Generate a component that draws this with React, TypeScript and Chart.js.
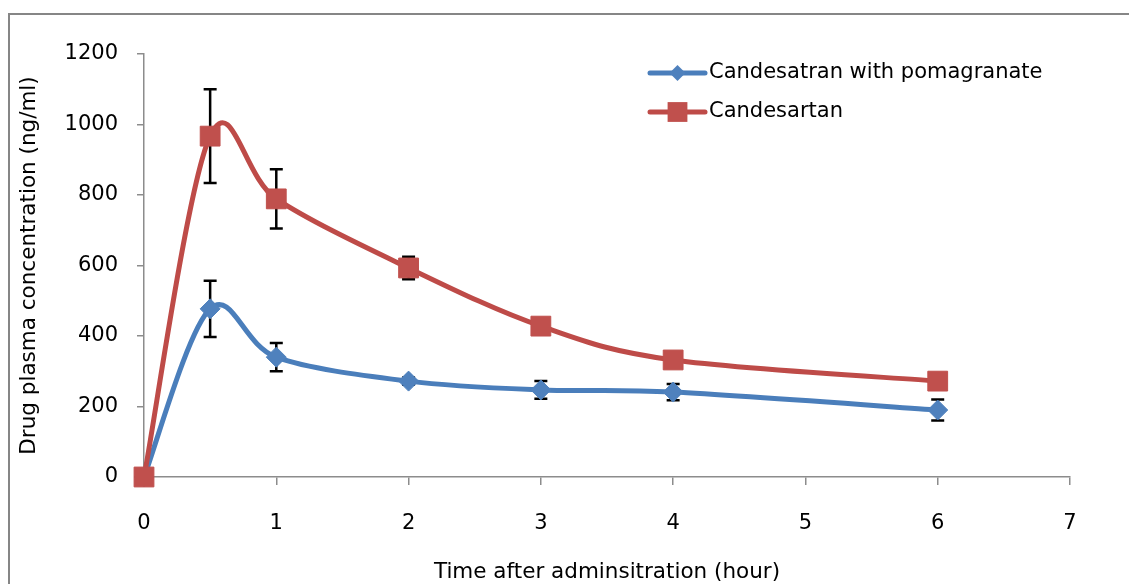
import { useEffect, useRef } from "react";
import { Chart, registerables } from "chart.js";

Chart.register(...registerables);

// ---- data ----
const timeHours = [0, 0.5, 1, 2, 3, 4, 6];
const withPomegranate = [0, 477, 340, 272, 247, 241, 190];
const withPomegranateSD = [0, 80, 40, 10, 25, 23, 30];
const candesartan = [0, 967, 789, 593, 428, 332, 272];
const candesartanSD = [0, 133, 84, 32, 15, 12, 10];
const seriesLabels = ["Candesatran with pomagranate", "Candesartan"];
const xAxisTitle = "Time after adminsitration (hour)";
const yAxisTitle = "Drug plasma concentration (ng/ml)";
const xMin = 0;
const xMax = 7;
const yMin = 0;
const yMax = 1200;
const yStep = 200;

const FONT = "'DejaVu Sans', sans-serif";
const BLUE = "#4A7EBB";
const BLUE_FILL = "#4F81BD";
const RED = "#BE4B48";
const RED_FILL = "#C0504D";
const AXIS = "#8C8C8C";

// Excel-like smoothing: uniform Catmull-Rom control points (1/6 of neighbour span)
const smoothPlugin = {
  id: "excelSmooth",
  beforeDatasetDraw(chart: any, args: any) {
    const meta = args.meta;
    const pts = meta.data;
    const n = pts.length;
    for (let i = 0; i < n; i++) {
      const p = pts[i];
      const prev = pts[Math.max(0, i - 1)];
      const next = pts[Math.min(n - 1, i + 1)];
      const tx = (next.x - prev.x) / 6;
      const ty = (next.y - prev.y) / 6;
      p.cp1x = p.x - tx;
      p.cp1y = p.y - ty;
      p.cp2x = p.x + tx;
      p.cp2y = p.y + ty;
    }
    if (meta.dataset) meta.dataset._pointsUpdated = true;
  },
};

const errorBarPlugin = {
  id: "errorBars",
  beforeDatasetsDraw(chart: any) {
    const { ctx } = chart;
    const xs = chart.scales.x;
    const ys = chart.scales.y;
    ctx.save();
    ctx.strokeStyle = "#000";
    ctx.lineWidth = 2.5;
    chart.data.datasets.forEach((ds: any) => {
      const errs: number[] = ds.errors || [];
      ds.data.forEach((p: any, i: number) => {
        const e = errs[i];
        if (!e) return;
        const x = xs.getPixelForValue(p.x);
        const yt = ys.getPixelForValue(p.y + e);
        const yb = ys.getPixelForValue(p.y - e);
        const cap = 6.5;
        ctx.beginPath();
        ctx.moveTo(x, yt);
        ctx.lineTo(x, yb);
        ctx.moveTo(x - cap, yt);
        ctx.lineTo(x + cap, yt);
        ctx.moveTo(x - cap, yb);
        ctx.lineTo(x + cap, yb);
        ctx.stroke();
      });
    });
    ctx.restore();
  },
};

const legendPlugin = {
  id: "insideLegend",
  afterDraw(chart: any) {
    const { ctx, chartArea } = chart;
    ctx.save();
    ctx.font = `21px ${FONT}`;
    ctx.textAlign = "left";
    ctx.textBaseline = "middle";
    chart.data.datasets.forEach((ds: any, i: number) => {
      const y = chartArea.top + 19 + i * 39;
      const x0 = chartArea.left + 506;
      const x1 = x0 + 55;
      ctx.strokeStyle = ds.borderColor;
      ctx.lineWidth = ds.borderWidth;
      ctx.lineCap = "round";
      ctx.beginPath();
      ctx.moveTo(x0, y);
      ctx.lineTo(x1, y);
      ctx.stroke();
      ctx.fillStyle = ds.pointBackgroundColor;
      const cx = (x0 + x1) / 2;
      if (ds.pointStyle === "rect") {
        const s = ds.pointRadius * Math.SQRT1_2;
        ctx.fillRect(cx - s, y - s, 2 * s, 2 * s);
      } else {
        const r = ds.pointRadius * 0.8;
        ctx.beginPath();
        ctx.moveTo(cx, y - r);
        ctx.lineTo(cx + r, y);
        ctx.lineTo(cx, y + r);
        ctx.lineTo(cx - r, y);
        ctx.closePath();
        ctx.fill();
      }
      ctx.fillStyle = "#000";
      ctx.fillText(ds.label, x1 + 4, y);
    });
    ctx.restore();
  },
};

export default function App() {
  const ref = useRef<HTMLCanvasElement | null>(null);

  useEffect(() => {
    if (!ref.current) return;
    const toPts = (vals: number[]) => vals.map((v, i) => ({ x: timeHours[i], y: v }));
    const chart = new Chart(ref.current, {
      type: "line",
      data: {
        datasets: [
          {
            label: seriesLabels[0],
            data: toPts(withPomegranate),
            errors: withPomegranateSD,
            borderColor: BLUE,
            borderWidth: 5,
            pointStyle: "rectRot",
            pointRadius: 10,
            pointBackgroundColor: BLUE_FILL,
            pointBorderColor: BLUE_FILL,
            pointBorderWidth: 1,
            tension: 0.4,
            clip: false,
            order: 1,
          } as any,
          {
            label: seriesLabels[1],
            data: toPts(candesartan),
            errors: candesartanSD,
            borderColor: RED,
            borderWidth: 5,
            pointStyle: "rect",
            pointRadius: 14,
            pointBackgroundColor: RED_FILL,
            pointBorderColor: RED_FILL,
            pointBorderWidth: 1,
            tension: 0.4,
            clip: false,
            order: 0,
          } as any,
        ],
      },
      options: {
        animation: false,
        responsive: true,
        maintainAspectRatio: false,
        layout: { padding: { left: 7, top: 39, right: 59, bottom: 0 } },
        plugins: {
          legend: { display: false },
          tooltip: { enabled: false },
        },
        scales: {
          x: {
            type: "linear",
            min: xMin,
            max: xMax,
            afterFit: (s: any) => {
              s.height = 107;
            },
            ticks: {
              stepSize: 1,
              color: "#000",
              padding: 26,
              font: { family: FONT, size: 21 },
              callback: (v: any) => String(v),
            },
            grid: {
              display: true,
              drawOnChartArea: false,
              drawTicks: true,
              tickLength: 8,
              color: AXIS,
              lineWidth: 1.5,
            },
            border: { display: true, color: AXIS, width: 1.5 },
            title: {
              display: true,
              text: xAxisTitle,
              color: "#000",
              font: { family: FONT, size: 21.5 },
              padding: { top: 0, bottom: -1 },
            },
          },
          y: {
            type: "linear",
            min: yMin,
            max: yMax,
            afterFit: (s: any) => {
              s.width = 127;
            },
            ticks: {
              stepSize: yStep,
              color: "#000",
              padding: 19,
              font: { family: FONT, size: 21 },
              callback: (v: any) => String(v),
            },
            grid: {
              display: true,
              drawOnChartArea: false,
              drawTicks: true,
              tickLength: 7,
              color: AXIS,
              lineWidth: 1.5,
            },
            border: { display: true, color: AXIS, width: 1.5 },
            title: {
              display: true,
              text: yAxisTitle,
              color: "#000",
              font: { family: FONT, size: 21.5 },
              padding: 0,
            },
          },
        },
      } as any,
      plugins: [smoothPlugin, errorBarPlugin, legendPlugin],
    });
    return () => chart.destroy();
  }, []);

  return (
    <div
      style={{
        position: "fixed",
        left: 8,
        top: 13,
        width: 1121,
        height: 571,
        boxSizing: "border-box",
        borderTop: "2px solid #868686",
        borderLeft: "2px solid #868686",
        background: "#fff",
      }}
    >
      <canvas ref={ref} />
    </div>
  );
}
